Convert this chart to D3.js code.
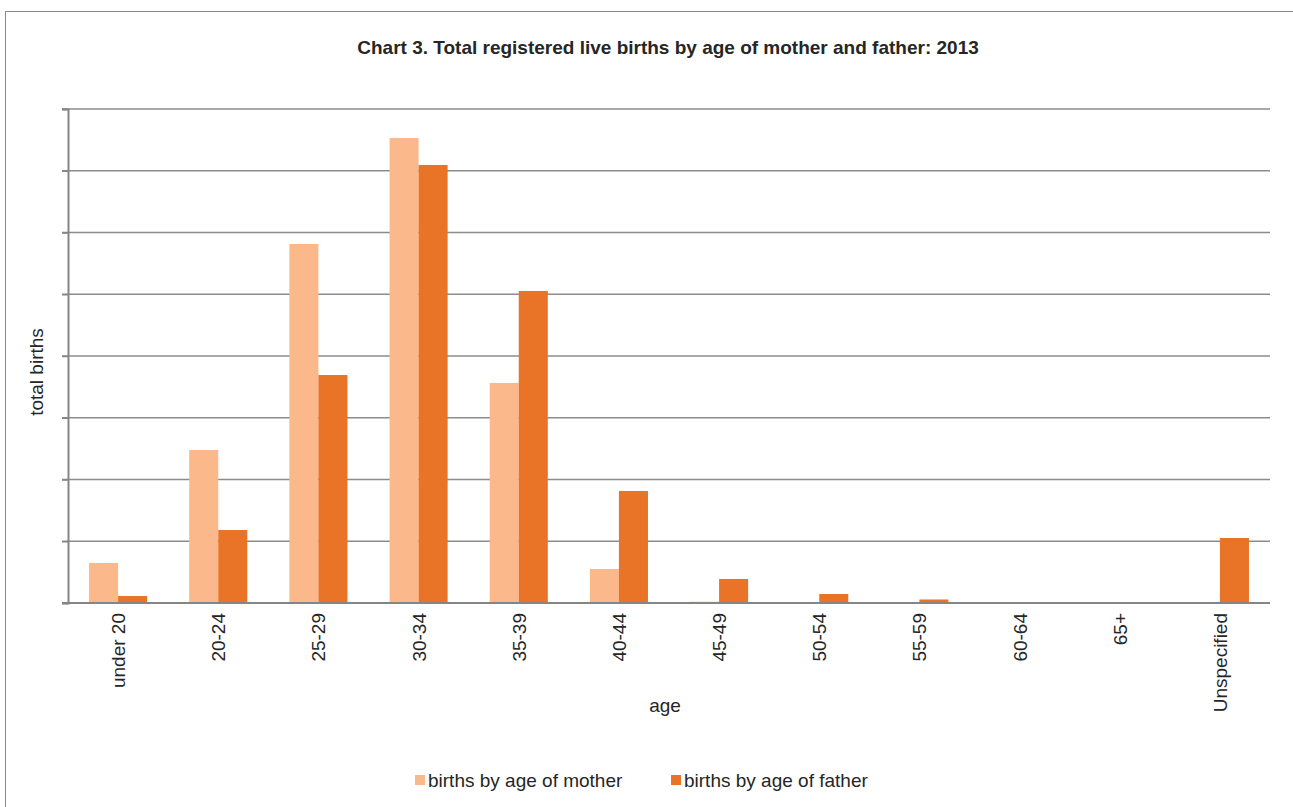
<!DOCTYPE html>
<html>
<head>
<meta charset="utf-8">
<script src="https://cdn.jsdelivr.net/npm/d3@7"></script>
<style>
  body { margin: 0; background: #fff; }
  text { font-family: Arial, "Liberation Sans", sans-serif; fill: #262626; }
</style>
</head>
<body>
<script>
// data (no y tick labels in the source, so units are gridline steps of 1000)
const ageGroups = ['under 20', '20-24', '25-29', '30-34', '35-39', '40-44', '45-49', '50-54', '55-59', '60-64', '65+', 'Unspecified']
const motherBirths = [648, 2478, 5814, 7530, 3563, 551, 20, 0, 0, 0, 0, 0]
const fatherBirths = [113, 1182, 3692, 7093, 5053, 1814, 389, 146, 57, 0, 0, 1053]
const seriesNames = ['births by age of mother', 'births by age of father']
const yTicks = [0, 1000, 2000, 3000, 4000, 5000, 6000, 7000, 8000]

const colors = ['#fbb98b', '#e97428']

const width = 1293, height = 807
const margin = { top: 109, right: 23, bottom: 204, left: 68 }

const svg = d3.select('body').append('svg')
  .attr('width', width)
  .attr('height', height)

// outer frame
svg.append('rect')
  .attr('x', 5.5).attr('y', 11.5)
  .attr('width', width + 10).attr('height', height + 10)
  .attr('fill', 'none')
  .attr('stroke', '#8a8a8a')

svg.append('text')
  .attr('x', 668).attr('y', 54)
  .attr('text-anchor', 'middle')
  .style('font-size', '19px')
  .style('font-weight', 'bold')
  .text('Chart 3. Total registered live births by age of mother and father: 2013')

const x = d3.scaleBand()
  .domain(ageGroups)
  .range([margin.left, width - margin.right])
  .paddingInner(0.42)
  .paddingOuter(0.21)

const y = d3.scaleLinear()
  .domain([0, 8000])
  .range([height - margin.bottom, margin.top])

// gridlines
svg.append('g')
  .selectAll('line')
  .data(yTicks.slice(1))
  .enter()
  .append('line')
  .attr('x1', margin.left - 6)
  .attr('x2', width - margin.right)
  .attr('y1', d => y(d))
  .attr('y2', d => y(d))
  .attr('stroke', '#8c8c8c')
  .attr('stroke-width', 1.3)

const bars = [motherBirths, fatherBirths]
bars.forEach((vals, s) => {
  svg.append('g')
    .selectAll('rect')
    .data(vals)
    .enter()
    .append('rect')
    .attr('x', (d, i) => x(ageGroups[i]) + s * x.bandwidth() / 2)
    .attr('y', d => y(d))
    .attr('width', x.bandwidth() / 2)
    .attr('height', d => y(0) - y(d))
    .attr('fill', colors[s])
})

// y axis with tick marks only
const yAxis = svg.append('g')
  .attr('transform', `translate(${margin.left},0)`)
  .call(d3.axisLeft(y).tickValues(yTicks).tickSize(6).tickFormat(''))
yAxis.select('.domain').attr('stroke', '#858585').attr('stroke-width', 2)
yAxis.selectAll('.tick line').attr('stroke', '#858585').attr('stroke-width', 1.5)

// x axis baseline
svg.append('line')
  .attr('x1', margin.left - 6)
  .attr('x2', width - margin.right)
  .attr('y1', y(0)).attr('y2', y(0))
  .attr('stroke', '#858585')
  .attr('stroke-width', 2)

// category labels, rotated
svg.append('g')
  .selectAll('text')
  .data(ageGroups)
  .enter()
  .append('text')
  .attr('transform', d => `translate(${x(d) + x.bandwidth() / 2 + 7},${y(0) + 10}) rotate(-90)`)
  .attr('text-anchor', 'end')
  .style('font-size', '19px')
  .text(d => d)

svg.append('text')
  .attr('x', 665).attr('y', 712)
  .attr('text-anchor', 'middle')
  .style('font-size', '19px')
  .text('age')

svg.append('text')
  .attr('transform', 'translate(43,372) rotate(-90)')
  .attr('text-anchor', 'middle')
  .style('font-size', '19px')
  .text('total births')

// legend
const legend = svg.append('g')
const legendX = [415, 671]
seriesNames.forEach((name, i) => {
  legend.append('rect')
    .attr('x', legendX[i]).attr('y', 775)
    .attr('width', 10).attr('height', 10)
    .attr('fill', colors[i])
  legend.append('text')
    .attr('x', legendX[i] + 13).attr('y', 787)
    .style('font-size', '19px')
    .text(name)
})
</script>
</body>
</html>
